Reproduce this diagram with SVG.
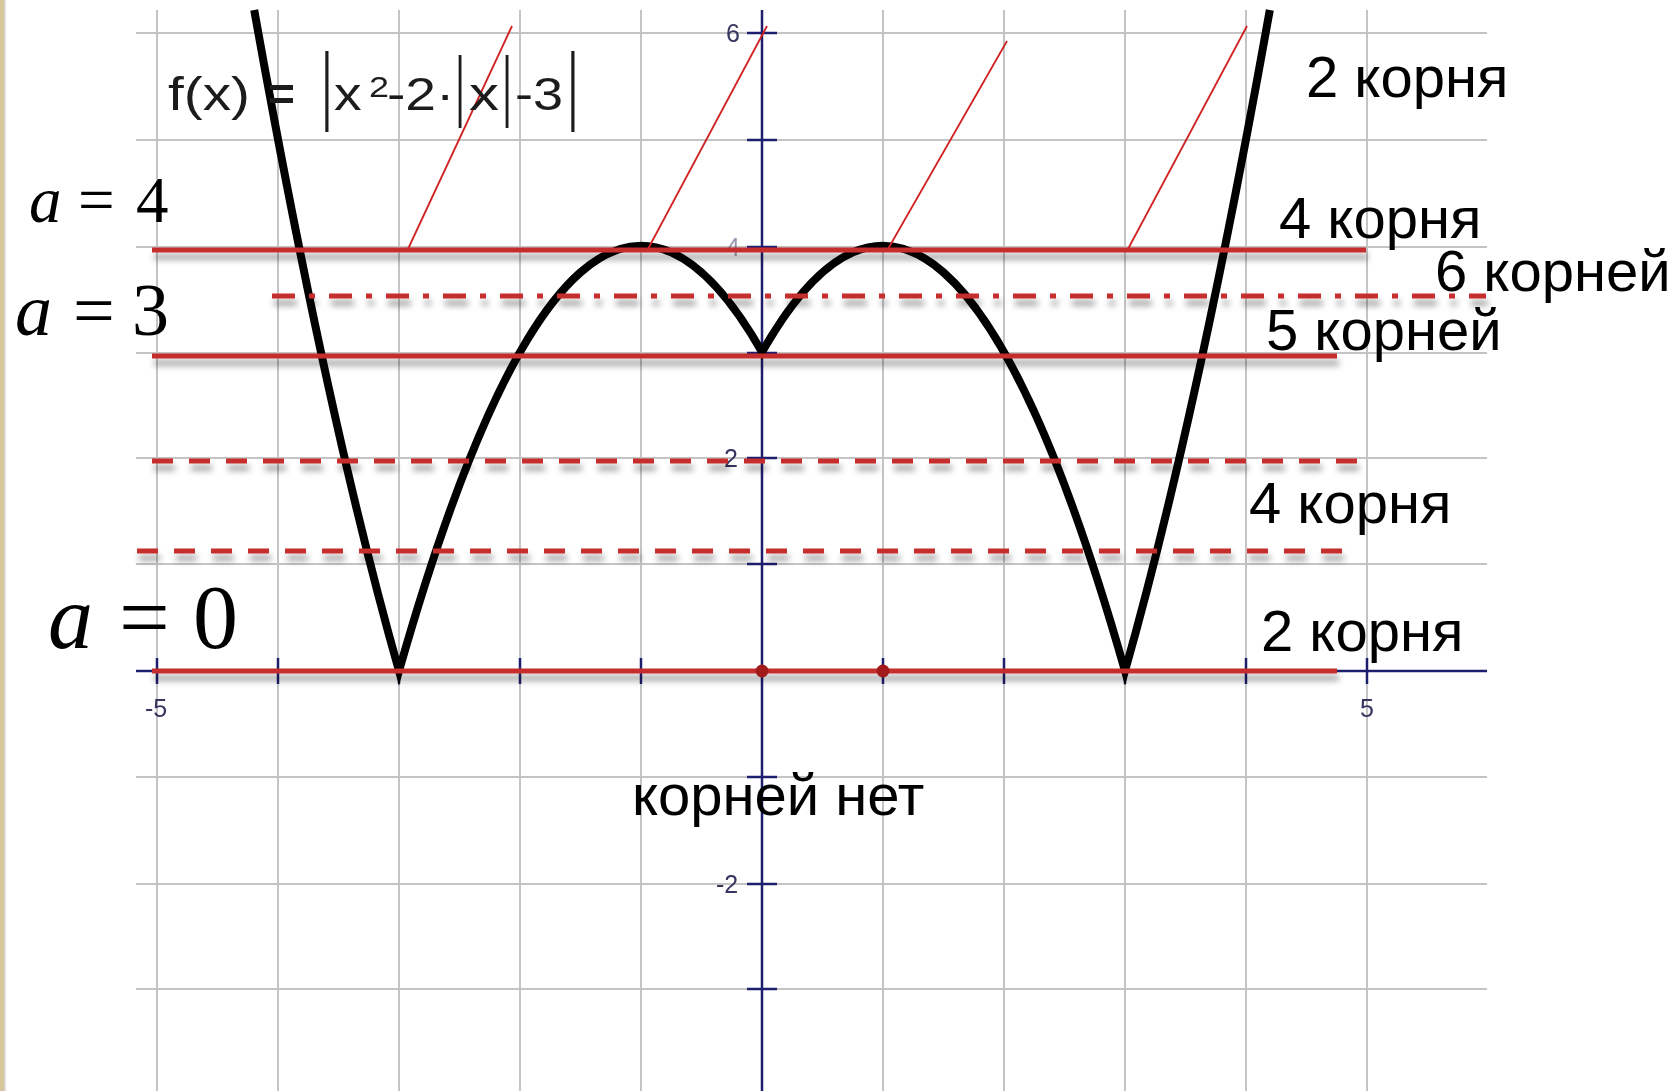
<svg xmlns="http://www.w3.org/2000/svg" width="1676" height="1091" viewBox="0 0 1676 1091">
  <defs>
    <style>
      .grid line { stroke: #c4c4c4; stroke-width: 2; }
      .axis { stroke: #1e1e6e; stroke-width: 2.5; fill: none; }
      .tick { stroke: #1e1e6e; stroke-width: 2.5; }
      .ticklbl { font-family: "Liberation Sans", Arial, sans-serif; font-size: 25px; fill: #34345e; text-anchor: middle; }
      .curve { stroke: #000; stroke-width: 8; fill: none; stroke-linejoin: miter; }
      .level { stroke: #c62d2d; stroke-width: 5; fill: none; }
      .dash { stroke-dasharray: 21 16; }
      .dashdot { stroke-dasharray: 23 14 6 14; }
      .pointer { stroke: #d02222; stroke-width: 1.8; fill: none; }
      .lbl { font-family: "Liberation Sans", Arial, sans-serif; font-size: 58px; fill: #000; }
      .math { font-family: "Liberation Serif", "Times New Roman", serif; fill: #000; }
      .formula { font-family: "Liberation Sans", Arial, sans-serif; font-size: 46px; fill: #1c1c1c; }
      .bar { font-family: "Liberation Sans", Arial, sans-serif; fill: #1c1c1c; text-anchor: middle; }
    </style>
    <filter id="shadow" x="-5%" y="-200%" width="110%" height="500%">
      <feDropShadow dx="2" dy="7" stdDeviation="3" flood-color="#000" flood-opacity="0.4"/>
    </filter>
    <filter id="soft" x="-10%" y="-10%" width="120%" height="120%">
      <feGaussianBlur stdDeviation="0.5"/>
    </filter>
  </defs>

  <rect width="1676" height="1091" fill="#ffffff"/>
  <g id="border">
    <rect x="0" y="0" width="4.5" height="1091" fill="#d8c79c"/>
    <line x1="5" y1="0" x2="5" y2="1091" stroke="#c9c9c9" stroke-width="1"/>
  </g>

  <g id="grid" class="grid">
    <line x1="157" y1="10" x2="157" y2="1091"/>
    <line x1="278" y1="10" x2="278" y2="1091"/>
    <line x1="399" y1="10" x2="399" y2="1091"/>
    <line x1="520" y1="10" x2="520" y2="1091"/>
    <line x1="641" y1="10" x2="641" y2="1091"/>
    <line x1="883" y1="10" x2="883" y2="1091"/>
    <line x1="1004" y1="10" x2="1004" y2="1091"/>
    <line x1="1125" y1="10" x2="1125" y2="1091"/>
    <line x1="1246" y1="10" x2="1246" y2="1091"/>
    <line x1="1367" y1="10" x2="1367" y2="1091"/>
    <line x1="136" y1="33" x2="1487" y2="33"/>
    <line x1="136" y1="140" x2="1487" y2="140"/>
    <line x1="136" y1="247" x2="1487" y2="247"/>
    <line x1="136" y1="353" x2="1487" y2="353"/>
    <line x1="136" y1="458" x2="1487" y2="458"/>
    <line x1="136" y1="564" x2="1487" y2="564"/>
    <line x1="136" y1="777" x2="1487" y2="777"/>
    <line x1="136" y1="884" x2="1487" y2="884"/>
    <line x1="136" y1="989" x2="1487" y2="989"/>
  </g>

  <g id="axes">
    <line class="axis" x1="136" y1="671" x2="1487" y2="671"/>
    <line class="axis" x1="762" y1="10" x2="762" y2="1091"/>
    <g class="tick">
      <line x1="157" y1="658" x2="157" y2="684"/>
      <line x1="278" y1="658" x2="278" y2="684"/>
      <line x1="399" y1="658" x2="399" y2="684"/>
      <line x1="520" y1="658" x2="520" y2="684"/>
      <line x1="641" y1="658" x2="641" y2="684"/>
      <line x1="883" y1="658" x2="883" y2="684"/>
      <line x1="1004" y1="658" x2="1004" y2="684"/>
      <line x1="1125" y1="658" x2="1125" y2="684"/>
      <line x1="1246" y1="658" x2="1246" y2="684"/>
      <line x1="1367" y1="658" x2="1367" y2="684"/>
      <line x1="747" y1="33" x2="777" y2="33"/>
      <line x1="747" y1="140" x2="777" y2="140"/>
      <line x1="747" y1="247" x2="777" y2="247"/>
      <line x1="747" y1="353" x2="777" y2="353"/>
      <line x1="747" y1="458" x2="777" y2="458"/>
      <line x1="747" y1="564" x2="777" y2="564"/>
      <line x1="747" y1="777" x2="777" y2="777"/>
      <line x1="747" y1="884" x2="777" y2="884"/>
      <line x1="747" y1="989" x2="777" y2="989"/>
    </g>
    <g filter="url(#soft)">
      <text class="ticklbl" x="733" y="42">6</text>
      <text class="ticklbl" x="733" y="256" opacity="0.5">4</text>
      <text class="ticklbl" x="731" y="467">2</text>
      <text class="ticklbl" x="727" y="893">-2</text>
      <text class="ticklbl" x="156" y="717">-5</text>
      <text class="ticklbl" x="1367" y="717">5</text>
    </g>
  </g>

  <g id="graph">
    <path class="curve" d="M254.2,10 Q326.8,416.6 399,671 Q580.5,33.2 762,352.1 Q943.5,33.2 1125,671 Q1197.2,416.6 1269.8,10"/>
  </g>

  <g id="levels" filter="url(#shadow)">
    <line class="level" x1="152" y1="250" x2="1366" y2="250"/>
    <line class="level dashdot" x1="272" y1="296" x2="1486" y2="296"/>
    <line class="level" x1="152" y1="356" x2="1337" y2="356"/>
    <line class="level dash" x1="152" y1="461" x2="1366" y2="461"/>
    <line class="level dash" x1="137" y1="551" x2="1352" y2="551"/>
    <line class="level" x1="152" y1="671" x2="1337" y2="671"/>
  </g>

  <g id="points" fill="#a31a1a">
    <circle cx="762" cy="671" r="6.5"/>
    <circle cx="883" cy="671" r="6.5"/>
  </g>

  <g id="pointers">
    <line class="pointer" x1="408" y1="249" x2="512" y2="26"/>
    <line class="pointer" x1="648" y1="249" x2="767" y2="26"/>
    <line class="pointer" x1="888" y1="249" x2="1007" y2="41"/>
    <line class="pointer" x1="1128" y1="249" x2="1247" y2="26"/>
  </g>

  <g id="formula">
    <text class="formula" x="168" y="110" textLength="82" lengthAdjust="spacingAndGlyphs" fill="#3a3a3a">f(x)</text>
    <text class="formula" x="268" y="110" font-size="48" font-weight="bold">=</text>
    <text class="bar" font-size="88" transform="translate(327 113.5) scale(0.45 1)">|</text>
    <text class="formula" transform="scale(1.2 1)" x="278.3" y="110">x<tspan x="307.5" y="97" font-size="30">2</tspan><tspan x="322.5" y="110">-2·</tspan></text>
    <text class="bar" font-size="78" transform="translate(460 111.6) scale(0.45 1)">|</text>
    <text class="formula" x="469" y="110" textLength="30" lengthAdjust="spacingAndGlyphs">x</text>
    <text class="bar" font-size="78" transform="translate(507 111.6) scale(0.45 1)">|</text>
    <text class="formula" x="515" y="110" textLength="48" lengthAdjust="spacingAndGlyphs">-3</text>
    <text class="bar" font-size="88" transform="translate(573 113.5) scale(0.45 1)">|</text>
  </g>

  <g id="param-labels" class="math">
    <g id="a4" font-size="65">
      <text x="29" y="222" font-style="italic">a</text>
      <text x="78" y="222">=</text>
      <text x="136" y="222">4</text>
    </g>
    <g id="a3" font-size="74">
      <text x="15" y="335" font-style="italic">a</text>
      <text x="73" y="335">=</text>
      <text x="132" y="335">3</text>
    </g>
    <g id="a0" font-size="90">
      <text x="48" y="648" font-style="italic">a</text>
      <text x="119" y="648">=</text>
      <text x="193" y="648">0</text>
    </g>
  </g>

  <g id="root-labels" class="lbl">
    <text x="1306" y="97">2 корня</text>
    <text x="1279" y="238">4 корня</text>
    <text x="1435" y="291">6 корней</text>
    <text x="1266" y="350">5 корней</text>
    <text x="1249" y="523">4 корня</text>
    <text x="1261" y="651">2 корня</text>
    <text x="632" y="815">корней нет</text>
  </g>
</svg>
